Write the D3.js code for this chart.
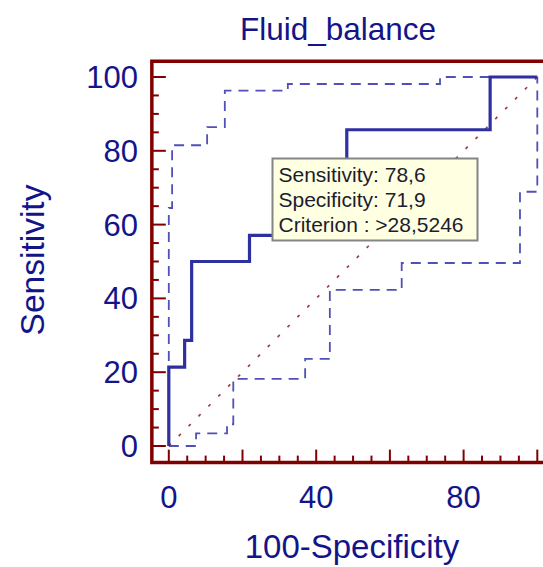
<!DOCTYPE html>
<html>
<head>
<meta charset="utf-8">
<script src="https://cdn.jsdelivr.net/npm/d3@7"></script>
<style>
  html, body { margin: 0; padding: 0; background: #fff; }
  svg { display: block; }
  text { font-family: "Liberation Sans", Arial, sans-serif; }
</style>
</head>
<body>
<svg id="chart" width="543" height="567"></svg>
<script>
// ROC curve (100-Specificity, Sensitivity) - step points
const rocFpr  = [0, 0, 4.3, 6.2, 21.9, 28.6, 48.3, 87.2, 100];
const rocSens = [0, 21.4, 28.6, 50, 57.1, 74, 85.7, 100, 100];

// confidence bands
const upperFpr  = [0, 0, 0.9, 10.4, 15.2, 32.3, 73.6, 100];
const upperSens = [0, 64.5, 81.5, 86.4, 96.3, 98.1, 100, 100];
const lowerFpr  = [0, 7.4, 15.8, 17.5, 37, 43.7, 63.2, 95.3, 100];
const lowerSens = [0, 3.4, 5.9, 18.2, 23.6, 42.3, 49.6, 68.9, 100];

const yTickLabels = [0, 20, 40, 60, 80, 100];
const xTickLabels = [0, 40, 80];
const tooltipLines = ['Sensitivity: 78,6', 'Specificity: 71,9', 'Criterion : >28,5246'];

const svg = d3.select('#chart');

const x = d3.scaleLinear().domain([0, 100]).range([168.8, 537.3]);
const y = d3.scaleLinear().domain([0, 100]).range([446, 77]);

const axisColor = '#800000';
const textColor = '#14148a';

// frame edges (in data units, a bit outside 0..100)
const frameL = x(-4.6), frameT = y(104.3), frameB = y(-4.5), frameR = x(104.6);

// diagonal reference line
svg.append('line')
  .attr('x1', x(0)).attr('y1', y(0))
  .attr('x2', x(100)).attr('y2', y(100))
  .attr('stroke', '#a83c3c')
  .attr('stroke-width', 1.7)
  .attr('stroke-dasharray', '3,11');

const line = d3.line()
  .x(d => x(d[0]))
  .y(d => y(d[1]))
  .curve(d3.curveStepAfter);

// dashed bands
[[upperFpr, upperSens], [lowerFpr, lowerSens]].forEach(([fx, sy]) => {
  svg.append('path')
    .datum(fx.map((v, i) => [v, sy[i]]))
    .attr('d', line)
    .attr('fill', 'none')
    .attr('stroke', '#5050b8')
    .attr('stroke-width', 1.8)
    .attr('stroke-dasharray', '10,7');
});

// ROC curve
svg.append('path')
  .datum(rocFpr.map((v, i) => [v, rocSens[i]]))
  .attr('d', line)
  .attr('fill', 'none')
  .attr('stroke', '#2f2fa0')
  .attr('stroke-width', 3.2);

// ticks
const ticks = d3.range(0, 101, 5);
svg.selectAll('.ytick')
  .data(ticks)
  .enter().append('line')
  .attr('x1', frameL).attr('x2', d => frameL + (d % 20 === 0 ? 14 : 7))
  .attr('y1', d => y(d)).attr('y2', d => y(d))
  .attr('stroke', axisColor).attr('stroke-width', 2);

svg.selectAll('.xtick')
  .data(ticks)
  .enter().append('line')
  .attr('x1', d => x(d)).attr('x2', d => x(d))
  .attr('y1', frameB).attr('y2', d => frameB - (d % 20 === 0 ? 13 : 7))
  .attr('stroke', axisColor).attr('stroke-width', 2);

// frame
svg.append('path')
  .attr('d', `M${frameR},${frameT} H${frameL} V${frameB} H${frameR}`)
  .attr('fill', 'none')
  .attr('stroke', axisColor)
  .attr('stroke-width', 3.5);

// tick labels
svg.selectAll('.ylab')
  .data(yTickLabels)
  .enter().append('text')
  .attr('x', 138)
  .attr('y', d => y(d) + 11)
  .attr('text-anchor', 'end')
  .attr('font-size', 31)
  .attr('fill', textColor)
  .text(d => d);

svg.selectAll('.xlab')
  .data(xTickLabels)
  .enter().append('text')
  .attr('x', d => x(d))
  .attr('y', 508)
  .attr('text-anchor', 'middle')
  .attr('font-size', 31)
  .attr('fill', textColor)
  .text(d => d);

// titles
svg.append('text')
  .attr('x', 338).attr('y', 40)
  .attr('text-anchor', 'middle')
  .attr('font-size', 31.5)
  .attr('fill', textColor)
  .text('Fluid_balance');

svg.append('text')
  .attr('x', 352).attr('y', 558)
  .attr('text-anchor', 'middle')
  .attr('font-size', 33)
  .attr('fill', textColor)
  .text('100-Specificity');

svg.append('text')
  .attr('transform', 'translate(44,260) rotate(-90)')
  .attr('text-anchor', 'middle')
  .attr('font-size', 33.5)
  .attr('fill', textColor)
  .text('Sensitivity');

// tooltip box
const tip = svg.append('g').attr('transform', 'translate(272.5,158.5)');
tip.append('rect')
  .attr('width', 205).attr('height', 82)
  .attr('fill', '#ffffe1')
  .attr('stroke', '#858585')
  .attr('stroke-width', 2);
tip.selectAll('text')
  .data(tooltipLines)
  .enter().append('text')
  .attr('x', 6)
  .attr('y', (d, i) => 23 + i * 25)
  .attr('font-size', 21)
  .attr('fill', '#1c1c30')
  .text(d => d);
</script>
</body>
</html>
